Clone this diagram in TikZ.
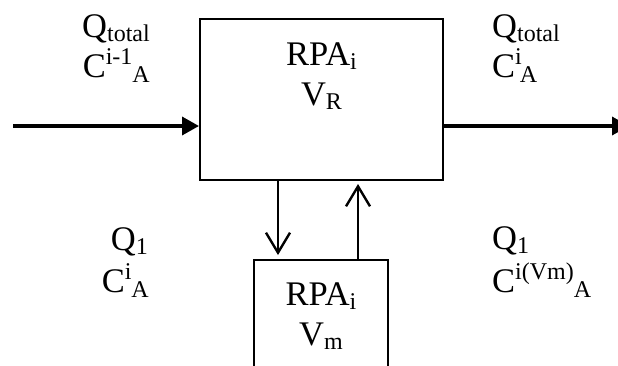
\documentclass[tikz,border=0pt]{standalone}
\usepackage{fontspec}
\setmainfont{Liberation Serif}
\usetikzlibrary{arrows.meta}
\newcommand\lowtxt[1]{\raisebox{-4pt}{\fontsize{24}{24}\selectfont #1}}
\newcommand\lowertxt[1]{\raisebox{-5.5pt}{\fontsize{24}{24}\selectfont #1}}
\newcommand\hightxt[1]{\raisebox{13pt}{\fontsize{24}{24}\selectfont #1}}
\begin{document}
\begin{tikzpicture}[x=1pt,y=-1pt,
  lbl/.style={inner sep=0pt, font=\fontsize{34.5}{40}\selectfont},
  box/.style={draw, line width=2pt, inner sep=0pt},
  marrow/.style={line width=3.5pt, -{Triangle[length=17pt,width=18pt]}},
  varrow/.style={line width=2.4pt, -{Straight Barb[length=20pt,width=24pt]}}]
\useasboundingbox (0,0) rectangle (618,365);
\node[box, minimum width=243pt, minimum height=161pt] (R) at (321.5,99.5) {};
\node[box, minimum width=134pt, minimum height=140pt] (M) at (321,330) {};
\node[lbl, anchor=base] (r1) at (321.5,65) {RPA\lowtxt{i}};
\node[lbl, anchor=base] (r2) at (321.5,105) {V\lowtxt{R}};
\node[lbl, anchor=base] (m1) at (321,305) {RPA\lowtxt{i}};
\node[lbl, anchor=base] (m2) at (321,345) {V\lowtxt{m}};
\node[lbl, anchor=base east] (qa) at (150,37) {Q\lowtxt{total}};
\node[lbl, anchor=base east] (ca) at (150,77) {C\hightxt{i-1}\lowertxt{A}};
\node[lbl, anchor=base west] (qb) at (492,37) {Q\lowtxt{total}};
\node[lbl, anchor=base west] (cb) at (492,77) {C\hightxt{i}\kern-2pt\lowertxt{A}};
\node[lbl, anchor=base east] (qc) at (148,250) {Q\lowtxt{1}};
\node[lbl, anchor=base east] (cc) at (149,292) {C\hightxt{i}\lowertxt{A}};
\node[lbl, anchor=base west] (qd) at (492,249) {Q\lowtxt{1}};
\node[lbl, anchor=base west] (cd) at (492,292) {C\hightxt{i(Vm)}\lowertxt{A}};
\coordinate (in) at (13,126);
\coordinate (out) at (629,126);
\draw[marrow] (in) -- (in -| R.west);
\draw[marrow] (in -| R.east) -- (out);
\draw[varrow, shorten >=4pt] ([xshift=-43.5pt]R.south) -- ([xshift=-43.5pt]R.south |- M.north);
\draw[varrow, shorten >=3pt] ([xshift=36.5pt]R.south |- M.north) -- ([xshift=36.5pt]R.south);
\end{tikzpicture}
\end{document}
